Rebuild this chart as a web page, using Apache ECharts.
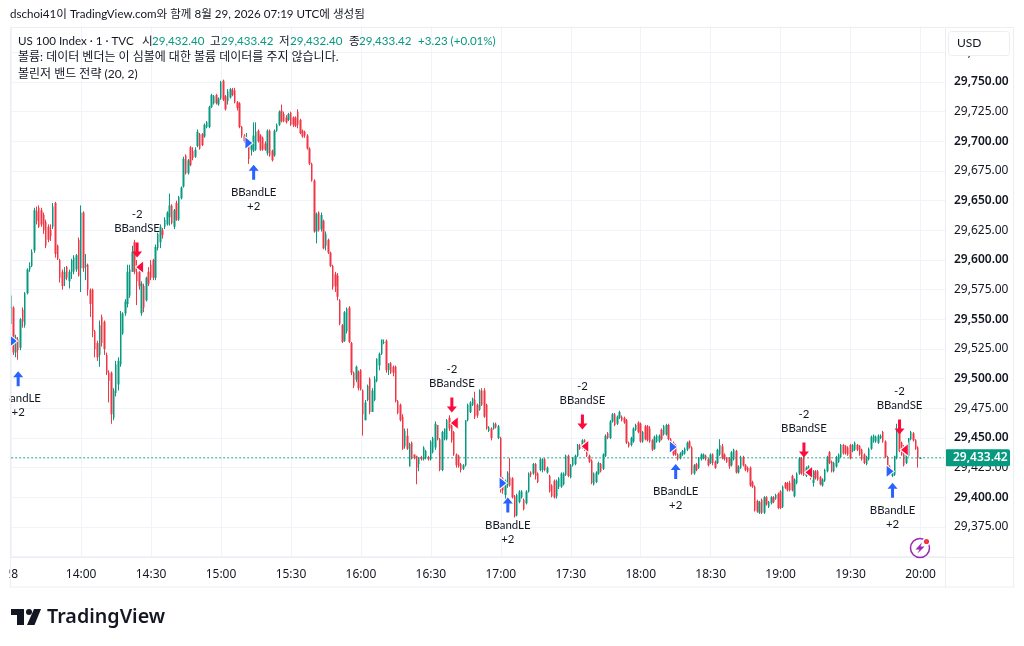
<!DOCTYPE html>
<html><head><meta charset="utf-8">
<style>html,body{margin:0;padding:0;background:#fff}#c{width:1024px;height:646px}</style>
<script src="https://cdn.jsdelivr.net/npm/echarts@6/dist/echarts.min.js"></script>
</head><body><div id="c"></div>
<script>
// Each row: [open, close, low, high] minus priceBase, one row per minute.
const priceBase = 29000;
const s1330 = [[546,570,545,575],[560,522,520,561],[522,535,518,537],[533,524,516,535],[526,550,524,551],[558,548,543,560],[545,572,543,573],[572,592,571,593],[592,595,590,598],[595,607,594,609],[608,642,606,644],[641,633,630,645],[644,628,627,646],[642,630,628,644],[638,625,622,640],[632,612,610,634],[628,617,615,630],[625,620,616,630],[628,645,626,648],[648,605,602,649],[612,601,600,613],[600,585,581,601],[590,578,575,592],[584,590,578,594],[594,585,583,595],[582,590,576,592],[590,600,584,601],[590,602,588,604],[592,604,590,605],[617,587,586,619]];
const s1400 = [[593,640,573,646],[640,593,590,641],[594,596,583,605],[596,575,570,597],[575,563,552,576],[575,540,535,576],[540,525,518,541],[530,518,515,532],[520,545,510,549],[552,530,527,554],[548,525,520,549],[520,505,503,522],[505,498,480,507],[505,470,462,506],[467,490,465,492],[488,512,485,515],[495,515,490,518],[512,555,510,557],[538,555,537,556],[555,565,553,567],[563,590,560,596],[570,592,568,596],[590,607,590,612],[615,590,588,617],[590,582,562,600],[590,578,575,592],[555,580,553,582],[578,560,556,580],[566,585,565,586],[590,580,578,594]];
const s1430 = [[596,585,583,600],[600,585,583,601],[585,611,583,613],[610,622,608,623],[615,628,610,630],[625,621,618,627],[628,634,626,636],[630,640,629,641],[636,646,629,656],[646,631,630,647],[628,642,626,643],[648,634,633,650],[634,653,633,654],[652,661,651,662],[662,685,661,687],[688,673,672,689],[673,684,672,685],[695,680,679,696],[692,686,684,695],[687,693,686,695],[696,708,695,710],[706,694,693,707],[706,697,696,707],[704,714,703,715],[712,716,711,717],[712,729,711,730],[729,739,728,740],[732,738,731,739],[739,732,731,740],[731,736,730,737]];
const s1500 = [[736,750,735,751],[751,735,734,752],[738,727,726,739],[734,742,731,744],[737,744,736,745],[743,739,738,745],[743,733,732,745],[733,728,726,734],[732,712,711,733],[712,705,703,713],[705,700,699,706],[697,703,695,707],[700,685,681,701],[693,698,688,700],[692,705,691,716],[693,708,692,716],[709,700,699,710],[705,693,692,706],[703,693,692,704],[698,693,692,700],[690,709,688,710],[709,688,687,710],[692,684,683,693],[688,709,687,710],[709,714,708,715],[714,725,713,726],[726,717,716,731],[723,717,716,725],[720,716,715,722],[718,723,717,724]];
const s1530 = [[724,714,713,725],[720,714,712,721],[720,713,712,721],[725,714,711,727],[718,707,706,719],[709,704,703,710],[708,705,703,709],[705,694,693,706],[694,681,680,695],[681,667,666,682],[667,624,623,668],[624,639,614,640],[640,625,624,641],[626,638,624,640],[633,610,609,634],[612,622,608,624],[617,606,605,618],[606,595,594,607],[595,577,575,596],[588,578,573,590],[587,569,566,589],[566,546,545,567],[545,531,530,546],[532,556,531,557],[540,559,538,560],[560,531,530,561],[530,505,503,531],[505,494,492,506],[499,510,497,511],[506,492,490,507]];
const s1600 = [[507,491,490,508],[490,470,452,491],[465,480,465,482],[482,494,481,495],[500,472,470,501],[472,490,472,492],[482,500,481,502],[498,517,497,517],[511,521,507,522],[521,533,520,533],[530,531,529,533],[532,507,505,533],[507,513,503,513],[513,505,504,514],[510,505,502,511],[510,481,480,511],[481,471,470,482],[478,465,464,479],[468,441,440,470],[443,456,441,458],[452,441,440,458],[426,445,426,446],[446,433,432,447],[436,433,432,436],[435,425,411,435],[428,433,422,434],[434,432,431,435],[432,442,431,443],[433,439,432,440],[434,432,431,435]];
const s1630 = [[432,447,431,448],[438,450,437,451],[442,462,440,464],[461,449,448,461],[449,423,422,450],[423,455,422,456],[449,458,448,458],[449,465,448,466],[467,458,456,469],[462,448,446,463],[455,436,435,456],[436,427,425,437],[435,426,425,436],[428,423,421,429],[424,427,423,428],[427,465,426,465],[465,478,464,479],[472,480,471,481],[478,483,477,484],[482,468,466,489],[478,469,467,479],[474,490,473,491],[490,478,477,492],[490,468,467,492],[478,458,457,479],[456,459,455,460],[458,450,448,459],[458,462,457,463],[462,459,458,463],[450,460,449,461]];
const s1700 = [[450,406,404,451],[416,406,403,417],[402,414,399,415],[410,421,408,422],[417,410,409,433],[416,400,399,417],[401,384,383,402],[385,402,384,403],[396,405,395,406],[400,405,399,406],[398,390,389,399],[395,405,394,406],[405,420,404,421],[421,419,417,422],[420,428,419,429],[428,418,415,429],[420,413,412,421],[423,432,422,433],[423,432,421,433],[432,423,422,433],[421,425,420,426],[418,405,404,419],[410,401,400,411],[414,400,399,415],[401,414,399,415],[409,416,407,417],[409,420,408,421],[411,420,410,421],[419,435,418,436],[435,418,417,436]];
const s1730 = [[417,427,416,428],[427,434,426,434],[428,435,427,436],[435,444,434,445],[444,441,440,445],[442,448,441,449],[448,440,439,449],[440,435,434,441],[435,430,429,436],[431,412,411,432],[411,420,410,421],[413,421,412,422],[420,429,419,430],[428,422,421,429],[424,436,423,437],[435,452,434,453],[454,450,449,455],[450,464,449,465],[464,470,463,471],[470,461,460,471],[462,468,461,469],[467,472,466,473],[468,465,464,469],[467,463,462,468],[465,446,445,466],[446,443,442,447],[444,450,443,451],[447,458,446,459],[457,461,456,462],[463,455,454,464]];
const s1800 = [[462,447,446,463],[447,455,446,456],[460,449,448,461],[460,448,447,461],[458,447,446,460],[448,440,439,449],[441,451,440,452],[447,452,446,453],[447,452,446,453],[457,449,448,458],[453,460,452,461],[453,461,452,462],[461,449,448,462],[449,446,445,450],[446,436,435,447],[444,436,435,445],[436,432,431,437],[433,437,432,438],[436,439,435,440],[437,441,436,442],[440,446,439,447],[447,442,441,448],[442,420,419,443],[420,427,419,428],[428,423,422,429],[425,433,424,434],[432,436,431,437],[433,436,432,437],[435,432,431,436],[432,427,426,433]];
const s1830 = [[429,436,428,437],[436,429,427,437],[430,425,424,431],[429,440,428,441],[436,444,435,449],[443,433,432,445],[436,432,431,437],[433,430,429,434],[433,426,424,434],[427,438,426,439],[432,440,431,441],[439,421,420,440],[421,426,420,427],[425,434,424,435],[434,427,426,435],[427,423,422,428],[425,422,421,426],[425,410,409,426],[413,409,408,414],[409,389,388,410],[397,388,387,398],[387,396,386,397],[398,387,386,399],[387,400,386,401],[400,394,393,401],[392,396,391,397],[395,400,394,401],[400,396,395,401],[399,402,398,403],[403,391,390,404]];
const s1900 = [[405,391,390,406],[392,409,391,410],[412,408,407,413],[412,406,405,413],[412,406,405,414],[418,406,405,419],[401,415,400,416],[412,420,411,421],[420,433,419,434],[433,420,419,434],[434,419,418,435],[418,425,417,426],[419,426,418,427],[423,416,415,424],[412,422,409,423],[422,416,415,423],[422,415,414,423],[417,411,410,418],[410,415,409,416],[414,423,413,424],[422,434,421,435],[438,429,428,439],[430,422,421,431],[422,429,421,430],[426,434,425,435],[430,436,429,437],[434,444,433,445],[444,437,436,445],[443,437,436,444],[442,436,435,443]];
const s1930 = [[444,433,432,445],[439,444,438,445],[440,446,439,447],[444,440,439,445],[443,436,435,444],[440,432,431,441],[436,429,428,437],[428,434,427,435],[432,441,431,442],[441,451,440,452],[447,452,446,453],[447,451,446,452],[446,452,445,453],[450,452,449,453],[455,447,446,456],[447,434,433,448],[434,425,424,435],[426,419,418,427],[418,422,417,423],[419,435,418,435],[433,457,432,462],[457,439,438,458],[446,436,435,447],[443,427,426,444],[429,436,428,437],[435,450,434,450],[449,455,448,456],[454,448,447,455],[448,441,440,449],[442,433,425,443]];
const s2000 = [[432.40,433.42,432.40,433.42]];

const lastPrice = 29433.42;
const firstDateLabel = '28';
const priceTickSkip = [29350, 29800];
// signals: [bar index, price]
const longArrows = [[3,29500],[104,29674],[213,29393.5],[285,29421.8],[378,29406]];
const longFlags = [[1,29531.7],[102,29698.6],[211,29412],[284,29442.4],[377,29422]];
const shortArrows = [[54,29608.4],[189,29477.8],[245,29463.5],[340,29439.9],[381,29459.3]];
const shortFlags = [[55,29594],[190,29462.6],[246,29443],[342,29421],[383,29440]];

const UP='#089981', DOWN='#F23645', BLUE='#2962FF', SIGNAL='#FF0A3C', INK='#131722', GRID='#f0f3fa', FRAME='#eceef2', DOT='#089981';
const FONT='"Noto Sans","Noto Sans CJK KR",sans-serif';
const HEAD='Lato,"Noto Sans CJK KR",sans-serif';
const rows=[].concat(s1330,s1400,s1430,s1500,s1530,s1600,s1630,s1700,s1730,s1800,s1830,s1900,s1930,s2000);
const candles=rows.map(r=>r.map(v=>v+priceBase));
const categories=[];
for(let i=0;i<401;i++){
  const m=13*60+30+i;
  categories.push(i===0?firstDateLabel:String(Math.floor(m/60)).padStart(2,'0')+':'+String(m%60).padStart(2,'0'));
}
const fmt=v=>v.toLocaleString('en-US',{minimumFractionDigits:2,maximumFractionDigits:2});
const upArrow='path://M5 0L10 6H6.5V15H3.5V6H0Z', downArrow='path://M3.5 0H6.5V9H10L5 15L0 9H3.5Z';
const triR='path://M0 0L6 5L0 10Z', triL='path://M6 0L0 5L6 10Z';
const t=(x,y,text,fill,size)=>({type:'text',z:102,x,y,style:{text,fill:fill||INK,font:(size||11.6)+'px '+HEAD,textVerticalAlign:'middle',textBaseline:'middle'}});

const chart=echarts.init(document.getElementById('c'),null,{renderer:'canvas'});
chart.setOption({
  animation:false,backgroundColor:'#fff',textStyle:{fontFamily:FONT},
  grid:{left:10,right:79,top:22.65,bottom:89.33},
  xAxis:{type:'category',data:categories,boundaryGap:true,
    axisLine:{show:false},axisTick:{show:false},
    axisLabel:{interval:i=>i%30===0,color:INK,fontSize:12,margin:12,fontFamily:FONT,hideOverlap:false},
    splitLine:{show:true,interval:i=>i%30===0,alignWithLabel:true,lineStyle:{color:GRID,width:1}}},
  yAxis:{type:'value',position:'right',min:29350,max:29800,interval:25,scale:true,
    axisLine:{show:false},axisTick:{show:false},
    splitLine:{lineStyle:{color:GRID,width:1}},
    axisLabel:{margin:9,fontFamily:FONT,
      formatter:v=>priceTickSkip.includes(v)?'':(v%50===0?'{b|'+fmt(v)+'}':'{n|'+fmt(v)+'}'),
      rich:{b:{color:INK,fontSize:12,fontWeight:600,fontFamily:FONT},n:{color:INK,fontSize:12,fontFamily:FONT}}}},
  series:[
    {type:'candlestick',data:candles,barWidth:1,clip:false,z:2,
      itemStyle:{color:UP,color0:DOWN,borderColor:UP,borderColor0:DOWN,borderWidth:1}},
    {type:'candlestick',data:candles,barWidth:2,clip:false,z:3,
      itemStyle:{color:UP,color0:DOWN,borderColor:'transparent',borderColor0:'transparent',borderWidth:0}},
    {type:'line',data:categories.map(()=>lastPrice),z:4,symbol:'none',silent:true,
      lineStyle:{color:DOT,type:[2,2],width:1.5,opacity:.6},
      markLine:{silent:true,symbol:'none',animation:false,
        lineStyle:{color:'rgba(0,0,0,0)',width:0},
        label:{position:'end',distance:0,formatter:()=>fmt(lastPrice),color:'#fff',backgroundColor:UP,
          fontSize:12,fontWeight:600,fontFamily:FONT,padding:[2,7,2,8],borderRadius:2,width:50,height:13,lineHeight:13},
        data:[{yAxis:lastPrice}]}},
    {type:'scatter',data:longArrows,symbol:upArrow,symbolSize:[10,15],itemStyle:{color:BLUE,opacity:1},z:5,
      label:{show:true,position:'bottom',distance:5.5,formatter:'BBandLE\n+2',color:INK,fontSize:11.4,lineHeight:14,fontFamily:HEAD}},
    {type:'scatter',data:longFlags,symbol:triR,symbolSize:[8,13],itemStyle:{color:BLUE,opacity:1,borderColor:'#fff',borderWidth:1},z:5},
    {type:'scatter',data:shortArrows,symbol:downArrow,symbolSize:[10,15],itemStyle:{color:SIGNAL,opacity:1},z:5,
      label:{show:true,position:'top',distance:7.5,formatter:'-2\nBBandSE',color:INK,fontSize:11.4,lineHeight:14,fontFamily:HEAD}},
    {type:'scatter',data:shortFlags,symbol:triL,symbolSize:[8,13],itemStyle:{color:SIGNAL,opacity:1,borderColor:'#fff',borderWidth:1},z:5}
  ],
  graphic:[
    {type:'rect',z:100,shape:{x:0,y:0,width:1024,height:26.5},style:{fill:'#fff'}},
    {type:'rect',z:100,shape:{x:0,y:26,width:9.5,height:570},style:{fill:'#fff'}},
    {type:'rect',z:101,shape:{x:10.5,y:27.5,width:1003,height:559.5},style:{fill:'none',stroke:FRAME,lineWidth:1}},
    {type:'line',z:101,shape:{x1:945.5,y1:27,x2:945.5,y2:587},style:{stroke:FRAME,lineWidth:1}},
    {type:'line',z:101,shape:{x1:10,y1:557.5,x2:1014,y2:557.5},style:{stroke:FRAME,lineWidth:1}},
    {type:'rect',z:101,shape:{x:948.5,y:31.5,width:61,height:24,r:3},style:{fill:'#fff',stroke:FRAME,lineWidth:1}},
    t(957,43,'USD',INK,12),
    t(10,14,'dschoi41이 TradingView.com와 함께 8월 29, 2026 07:19 UTC에 생성됨'),
    t(18,41,'US 100 Index · 1 · TVC'),
    t(142,41,'시'),t(152,41,'29,432.40',UP),
    t(210,41,'고'),t(221,41,'29,433.42',UP),
    t(279,41,'저'),t(290,41,'29,432.40',UP),
    t(349,41,'종'),t(359,41,'29,433.42',UP),
    t(418,41,'+3.23 (+0.01%)',UP),
    t(18,57,'볼륨: 데이터 벤더는 이 심볼에 대한 볼륨 데이터를 주지 않습니다.',INK,12),
    t(18,74,'볼린저 밴드 전략 (20, 2)',INK,12),
    {type:'circle',z:103,shape:{cx:920,cy:548,r:9.5},style:{fill:'none',stroke:'#9C27B0',lineWidth:1.5}},
    {type:'polygon',z:103,shape:{points:[[922,542.5],[915.5,549.5],[919.5,549.5],[917.5,553.5],[924.5,546.5],[920.5,546.5]]},style:{fill:'#9C27B0'}},
    {type:'circle',z:103,shape:{cx:926.5,cy:541.5,r:4},style:{fill:'#fff'}},
    {type:'circle',z:104,shape:{cx:926.5,cy:541.5,r:2.6},style:{fill:'#F23645'}},
    {type:'polygon',z:103,shape:{points:[[11,609],[24,609],[24,625],[17,625],[17,615],[11,615]]},style:{fill:INK}},
    {type:'circle',z:103,shape:{cx:29,cy:612,r:3},style:{fill:INK}},
    {type:'polygon',z:103,shape:{points:[[34,609],[41,609],[34.5,625],[27,625]]},style:{fill:INK}},
    {type:'text',z:103,x:47,y:617,style:{text:'TradingView',fill:INK,font:'600 19.7px '+FONT,textVerticalAlign:'middle',textBaseline:'middle'}}
  ]
});
</script></body></html>
